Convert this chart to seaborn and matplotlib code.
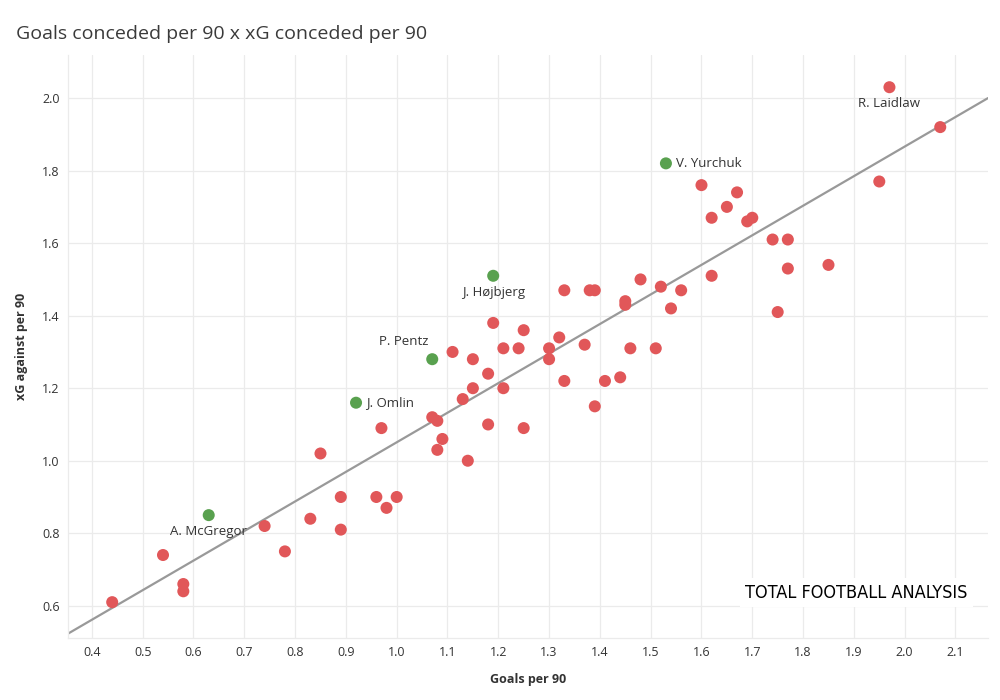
import matplotlib
matplotlib.use("Agg")
import matplotlib.pyplot as plt
import numpy as np
import pandas as pd
import seaborn as sns

# goals conceded per 90 / xG conceded per 90, one entry per goalkeeper
goals_per_90 = [
	1.97, 2.07, 1.95, 1.53, 1.60, 1.67, 1.65, 1.62, 1.70, 1.69,
	1.74, 1.77, 1.77, 1.85, 1.62, 1.75, 1.19, 1.33, 1.38, 1.39,
	1.48, 1.52, 1.56, 1.45, 1.45, 1.54, 1.19, 1.25, 1.32, 1.37,
	1.07, 1.11, 1.15, 1.21, 1.24, 1.30, 1.30, 1.46, 1.51, 1.18,
	1.33, 1.41, 1.44, 1.15, 1.21, 1.13, 0.92, 1.39, 1.07, 1.08,
	0.97, 1.18, 1.25, 1.09, 1.08, 0.85, 1.14, 0.63, 0.89, 0.96,
	1.00, 0.98, 0.83, 0.74, 0.89, 0.78, 0.54, 0.58, 0.58, 0.44,
]
xg_per_90 = [
	2.03, 1.92, 1.77, 1.82, 1.76, 1.74, 1.70, 1.67, 1.67, 1.66,
	1.61, 1.61, 1.53, 1.54, 1.51, 1.41, 1.51, 1.47, 1.47, 1.47,
	1.50, 1.48, 1.47, 1.44, 1.43, 1.42, 1.38, 1.36, 1.34, 1.32,
	1.28, 1.30, 1.28, 1.31, 1.31, 1.31, 1.28, 1.31, 1.31, 1.24,
	1.22, 1.22, 1.23, 1.20, 1.20, 1.17, 1.16, 1.15, 1.12, 1.11,
	1.09, 1.10, 1.09, 1.06, 1.03, 1.02, 1.00, 0.85, 0.90, 0.90,
	0.90, 0.87, 0.84, 0.82, 0.81, 0.75, 0.74, 0.66, 0.64, 0.61,
]
players = [""] * len(goals_per_90)
players[0] = "R. Laidlaw"
players[3] = "V. Yurchuk"
players[16] = "J. Højbjerg"
players[30] = "P. Pentz"
players[46] = "J. Omlin"
players[57] = "A. McGregor"
highlighted = ["V. Yurchuk", "J. Højbjerg", "P. Pentz", "J. Omlin", "A. McGregor"]

df = pd.DataFrame({"goals": goals_per_90, "xg": xg_per_90, "player": players})
df["group"] = np.where(df["player"].isin(highlighted), "highlight", "other")

sns.set_theme(style="white")
plt.rcParams["font.family"] = ["Open Sans", "DejaVu Sans"]

fig = plt.figure(figsize=(10, 7), dpi=100)
ax = fig.add_axes([0.068, 0.089, 0.92, 0.832])
ax.set_xlim(0.353, 2.164)
ax.set_ylim(0.512, 2.118)

grid_col = "#ebebeb"
ax.set_xticks(np.arange(0.4, 2.15, 0.1))
ax.set_yticks(np.arange(0.6, 2.05, 0.2))
ax.grid(True, color=grid_col, lw=0.9)
ax.set_axisbelow(True)

# trend line first so dots sit on top
sns.regplot(data=df, x="goals", y="xg", ax=ax, scatter=False, ci=None,
	truncate=False, line_kws={"color": "#999999", "lw": 1.6, "zorder": 2})

sns.scatterplot(data=df, x="goals", y="xg", hue="group", ax=ax,
	palette={"other": "#e15759", "highlight": "#59a14f"},
	s=75, edgecolor="none", legend=False, zorder=3)

# label placement: (dx, dy) in points, ha, va
label_pos = {
	"R. Laidlaw": (0, -7, "center", "top"),
	"V. Yurchuk": (7, 0, "left", "center"),
	"J. Højbjerg": (0, -7, "center", "top"),
	"P. Pentz": (-3, 8, "right", "bottom"),
	"J. Omlin": (7, 0, "left", "center"),
	"A. McGregor": (0, -7, "center", "top"),
}
for _, row in df[df["player"] != ""].iterrows():
	dx, dy, ha, va = label_pos[row["player"]]
	ax.annotate(row["player"], (row["goals"], row["xg"]), xytext=(dx, dy),
		textcoords="offset points", ha=ha, va=va, fontsize=9.5, color="#333333")

for side in ["top", "right"]:
	ax.spines[side].set_visible(False)
for side in ["left", "bottom"]:
	ax.spines[side].set_color(grid_col)
	ax.spines[side].set_linewidth(0.9)

ax.tick_params(axis="both", labelsize=9, colors="#333333", length=4, color=grid_col, pad=2)
ax.set_xticklabels([f"{v:.1f}" for v in ax.get_xticks()])
ax.set_yticklabels([f"{v:.1f}" for v in ax.get_yticks()])
ax.tick_params(axis="y", length=0, pad=6)
ax.set_xlabel("Goals per 90", fontsize=9, fontweight="bold", color="#333333", labelpad=10)
ax.set_ylabel("xG against per 90", fontsize=9, fontweight="bold", color="#333333", labelpad=10)

fig.text(0.016, 0.952, "Goals conceded per 90 x xG conceded per 90", fontsize=14,
	color="#3a3a3a", ha="left", va="center")

# watermark
ax.text(0.978, 0.077, "TOTAL FOOTBALL ANALYSIS", transform=ax.transAxes,
	ha="right", va="center", fontsize=13, color="black",
	family=["DejaVu Sans"], fontstretch="condensed",
	bbox=dict(facecolor="white", edgecolor="none", pad=4), zorder=5)

fig.savefig("out.png", dpi=100)
